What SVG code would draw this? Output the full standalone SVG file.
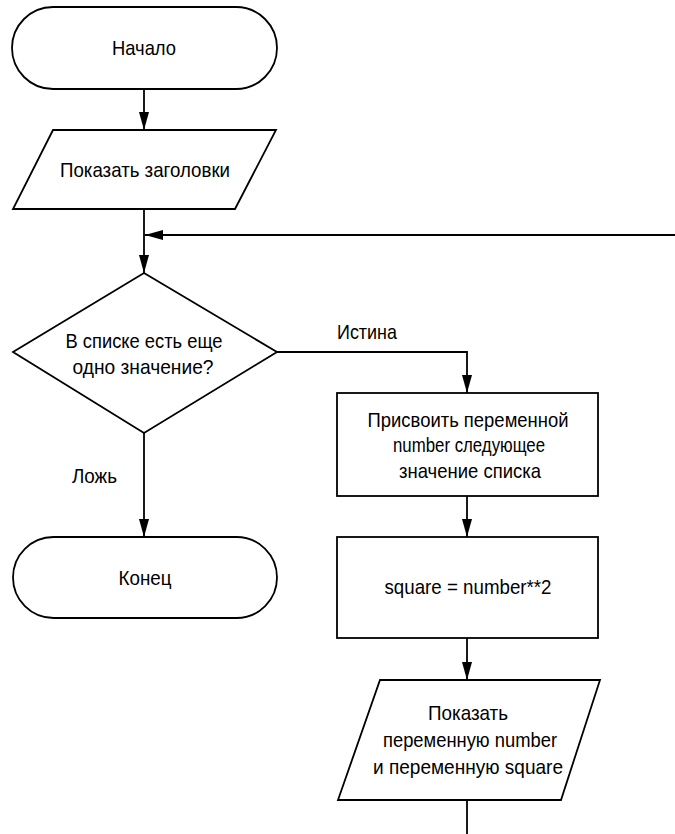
<svg xmlns="http://www.w3.org/2000/svg" width="675" height="834" viewBox="0 0 675 834">
<style>
.shape{fill:#fff;stroke:#000;stroke-width:1.8}
.conn{fill:none;stroke:#000;stroke-width:1.8}
text{font-family:"Liberation Sans",Arial,sans-serif;font-size:21px;fill:#000;text-anchor:middle}
.lbl{text-anchor:start}
</style>
<defs>
<marker id="arr" markerUnits="userSpaceOnUse" markerWidth="18" markerHeight="10" refX="18" refY="5" orient="auto">
<path d="M0,0 L18,5 L0,10 z" fill="#000"/>
</marker>
</defs>
<rect width="675" height="834" fill="#fff"/>
<g id="connectors">
<path class="conn" d="M144,89 V130" marker-end="url(#arr)"/>
<path class="conn" d="M144,209 V273" marker-end="url(#arr)"/>
<path class="conn" d="M675,235 H145" marker-end="url(#arr)"/>
<path class="conn" d="M277,352 H467 V393" marker-end="url(#arr)"/>
<path class="conn" d="M144,433 V537" marker-end="url(#arr)"/>
<path class="conn" d="M467,496 V537" marker-end="url(#arr)"/>
<path class="conn" d="M467,638 V680" marker-end="url(#arr)"/>
<path class="conn" d="M467,800 V834"/>
<text class="lbl" x="337" y="339" textLength="60" lengthAdjust="spacingAndGlyphs">Истина</text>
<text class="lbl" x="72" y="483" textLength="45" lengthAdjust="spacingAndGlyphs">Ложь</text>
</g>
<g id="start">
<rect class="shape" x="12" y="7" width="265" height="82" rx="41" ry="41"/>
<text x="144" y="55" textLength="64" lengthAdjust="spacingAndGlyphs">Начало</text>
</g>
<g id="show-headers">
<polygon class="shape" points="53,130 276,130 235,209 13,209"/>
<text x="145" y="177" textLength="170" lengthAdjust="spacingAndGlyphs">Показать заголовки</text>
</g>
<g id="decision">
<polygon class="shape" points="144,273 277,352 144,433 13,352"/>
<text x="144" y="348" textLength="157" lengthAdjust="spacingAndGlyphs">В списке есть еще</text>
<text x="143" y="374" textLength="141" lengthAdjust="spacingAndGlyphs">одно значение?</text>
</g>
<g id="end">
<rect class="shape" x="13" y="537" width="264" height="81" rx="40.5" ry="40.5"/>
<text x="145" y="585" textLength="53" lengthAdjust="spacingAndGlyphs">Конец</text>
</g>
<g id="assign">
<rect class="shape" x="337" y="393" width="261" height="103"/>
<text x="468" y="427" textLength="201" lengthAdjust="spacingAndGlyphs">Присвоить переменной</text>
<text x="469" y="452" textLength="152" lengthAdjust="spacingAndGlyphs">number следующее</text>
<text x="470" y="478" textLength="142" lengthAdjust="spacingAndGlyphs">значение списка</text>
</g>
<g id="square">
<rect class="shape" x="337" y="537" width="261" height="101"/>
<text x="468" y="594" textLength="167" lengthAdjust="spacingAndGlyphs">square = number**2</text>
</g>
<g id="show-values">
<polygon class="shape" points="380,680 600,680 561,800 338,800"/>
<text x="468" y="720" textLength="80" lengthAdjust="spacingAndGlyphs">Показать</text>
<text x="470" y="747" textLength="174" lengthAdjust="spacingAndGlyphs">переменную number</text>
<text x="468" y="774" textLength="190" lengthAdjust="spacingAndGlyphs">и переменную square</text>
</g>
</svg>
